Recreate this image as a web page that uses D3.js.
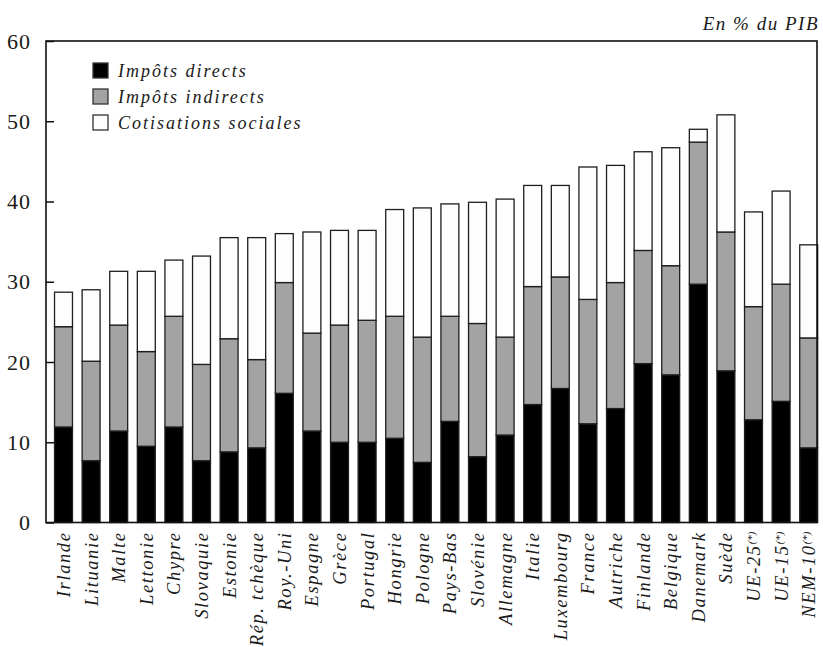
<!DOCTYPE html>
<html>
<head>
<meta charset="utf-8">
<script src="https://cdn.jsdelivr.net/npm/d3@7"></script>
<style>
  body { margin: 0; background: #fff; }
  svg { display: block; }
  text { font-family: "Liberation Serif", "Times New Roman", serif; fill: #1a1a1a; }
</style>
</head>
<body>
<svg id="chart" width="823" height="647"></svg>
<script>
// Categories and series (% of GDP)
var countries = ["Irlande", "Lituanie", "Malte", "Lettonie", "Chypre", "Slovaquie", "Estonie",
  "Rép. tchèque", "Roy.-Uni", "Espagne", "Grèce", "Portugal", "Hongrie", "Pologne", "Pays-Bas",
  "Slovénie", "Allemagne", "Italie", "Luxembourg", "France", "Autriche", "Finlande", "Belgique",
  "Danemark", "Suède", "UE-25(*)", "UE-15(*)", "NEM-10(*)"];

var directs = [11.9, 7.7, 11.4, 9.5, 11.9, 7.7, 8.8, 9.3, 16.1, 11.4, 10.0, 10.0, 10.5, 7.5,
  12.6, 8.2, 10.9, 14.7, 16.7, 12.3, 14.2, 19.8, 18.4, 29.7, 18.9, 12.8, 15.1, 9.3];
var indirects = [12.5, 12.4, 13.2, 11.8, 13.8, 12.0, 14.1, 11.0, 13.8, 12.2, 14.6, 15.2, 15.2, 15.6,
  13.1, 16.6, 12.2, 14.7, 13.9, 15.5, 15.7, 14.1, 13.6, 17.7, 17.3, 14.1, 14.6, 13.7];
var cotisations = [4.3, 8.9, 6.7, 10.0, 7.0, 13.5, 12.6, 15.2, 6.1, 12.6, 11.8, 11.2, 13.3, 16.1,
  14.0, 15.1, 17.2, 12.6, 11.4, 16.5, 14.6, 12.3, 14.7, 1.6, 14.6, 11.8, 11.6, 11.6];

var seriesNames = ["Impôts directs", "Impôts indirects", "Cotisations sociales"];
var yTicks = [0, 10, 20, 30, 40, 50, 60];

// Frame of the plot
var plotLeft = 46, plotRight = 817, plotTop = 41, plotBottom = 522.5;

var svg = d3.select("#chart");

// Build table for the stack layout
var rows = countries.map(function(c, i) {
  return { pays: c, d: directs[i], ind: indirects[i], cot: cotisations[i] };
});
var keys = ["d", "ind", "cot"];
var fills = { d: "#000000", ind: "#a3a3a3", cot: "#fdfdfd" };

var stack = d3.stack().keys(keys);
var layers = stack(rows);

// Scales
var x = d3.scaleBand()
  .domain(countries)
  .range([49.7, 822.5])
  .paddingInner(0.35)
  .paddingOuter(0.175);

var y = d3.scaleLinear()
  .domain([0, 60])
  .range([plotBottom, plotTop]);

// Bars
var layerG = svg.selectAll(".layer")
  .data(layers)
  .enter().append("g")
  .attr("class", "layer")
  .attr("fill", function(d) { return fills[d.key]; });

layerG.selectAll("rect")
  .data(function(d) { return d; })
  .enter().append("rect")
  .attr("x", function(d) { return x(d.data.pays); })
  .attr("width", x.bandwidth())
  .attr("y", function(d) { return y(d[1]); })
  .attr("height", function(d) { return y(d[0]) - y(d[1]); })
  .attr("stroke", "#1e1e1e")
  .attr("stroke-width", 1.3);

// Y axis, ticks pointing inward
var yAxis = svg.append("g")
  .attr("transform", "translate(" + plotLeft + ",0)")
  .call(d3.axisLeft(y).tickValues(yTicks).tickSizeInner(-8).tickSizeOuter(0).tickPadding(15));
yAxis.attr("font-family", null);
yAxis.select(".domain").remove();
yAxis.selectAll("line").attr("stroke", "#111").attr("stroke-width", 1.5);
yAxis.selectAll("text")
  .style("font-size", "22px")
  .style("letter-spacing", "1px")
  .attr("fill", "#1a1a1a");

// X axis with rotated labels
var xAxis = svg.append("g")
  .attr("transform", "translate(0," + plotBottom + ")")
  .call(d3.axisBottom(x).tickSize(0).tickPadding(0));
xAxis.attr("font-family", null);
xAxis.select(".domain").remove();
xAxis.selectAll("text")
  .attr("transform", "rotate(-90)")
  .attr("x", -9)
  .attr("y", 0)
  .attr("dy", "0.35em")
  .style("text-anchor", "end")
  .style("font-size", "18.5px")
  .style("font-style", "italic")
  .style("letter-spacing", "1.6px")
  .attr("fill", "#1a1a1a")
  .each(function(d) {
    // superscript the (*) marks
    var m = d.match(/^(.*)\((\*)\)$/);
    if (m) {
      var t = d3.select(this).text(m[1]);
      t.append("tspan").text("(*)").style("font-size", "11px").attr("dy", "-0.45em")
        .style("letter-spacing", "0px");
    }
  });

// Plot frame
svg.append("rect")
  .attr("x", plotLeft)
  .attr("y", plotTop)
  .attr("width", plotRight - plotLeft)
  .attr("height", plotBottom - plotTop)
  .attr("fill", "none")
  .attr("stroke", "#111")
  .attr("stroke-width", 1.6);

// Unit note
svg.append("text")
  .attr("x", 819)
  .attr("y", 30)
  .style("text-anchor", "end")
  .style("font-size", "19px")
  .style("font-style", "italic")
  .style("letter-spacing", "1.5px")
  .text("En % du PIB");

// Legend
var legendG = svg.selectAll(".legend")
  .data(keys)
  .enter().append("g")
  .attr("class", "legend")
  .attr("transform", function(d, i) {
    return "translate(93," + (63 + i * 26) + ")";
  });

legendG.append("rect")
  .attr("width", 15)
  .attr("height", 15)
  .attr("fill", function(d) { return fills[d]; })
  .attr("stroke", "#333")
  .attr("stroke-width", 1.3);

legendG.append("text")
  .text(function(d, i) { return seriesNames[i]; })
  .attr("x", 25)
  .attr("y", 14)
  .style("font-size", "18px")
  .style("font-style", "italic")
  .style("letter-spacing", "2px");
</script>
</body>
</html>
